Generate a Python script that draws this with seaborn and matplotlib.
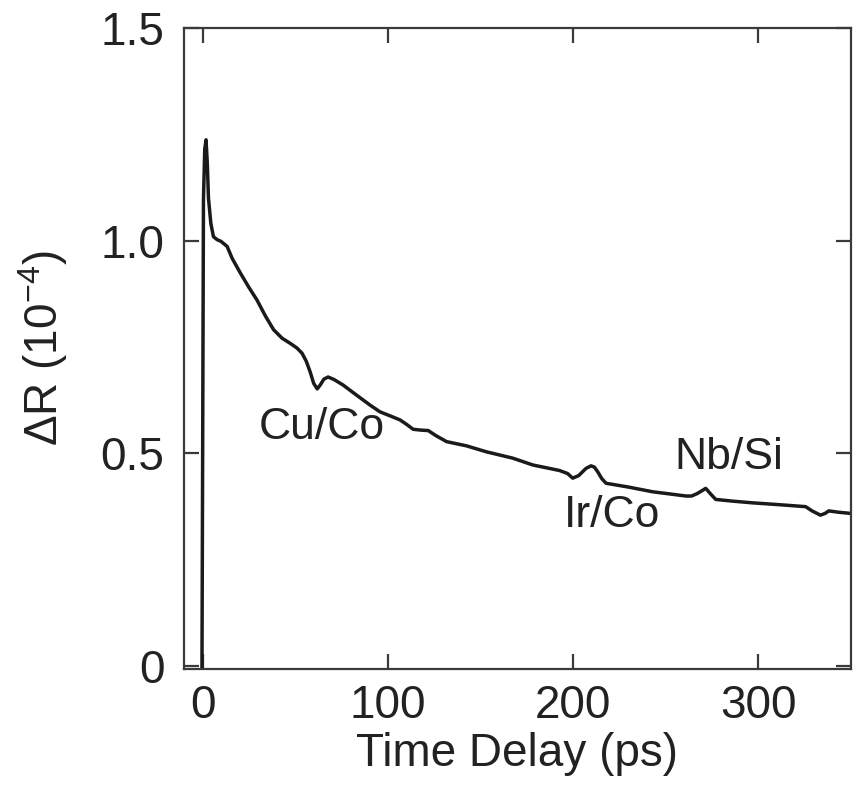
import matplotlib
matplotlib.use("Agg")
import matplotlib.pyplot as plt
import seaborn as sns
import pandas as pd

# Transient reflectivity trace: time delay (ps) and signal (units of 1e-4)
time_ps = [-0.3, 0.5, 1.2, 1.9, 2.6, 3.2, 4.5, 5.9, 7.9, 10.0, 13.3, 16.0,
           20.5, 25.0, 29.4, 34.0, 38.4, 43.0, 47.4, 51.0, 53.7, 56.0, 58.1,
           60.0, 61.9, 63.5, 65.5, 67.8, 71.0, 75.9, 82.0, 90.4, 95.8, 101.0,
           106.6, 110.0, 113.7, 117.9, 121.8, 126.0, 131.7, 142.5, 153.2,
           167.5, 178.3, 192.7, 197.0, 199.8, 203.0, 207.0, 209.7, 211.5,
           213.3, 215.5, 217.8, 230.0, 242.9, 252.0, 260.9, 264.0, 267.1,
           271.6, 274.0, 277.0, 286.0, 296.7, 310.0, 325.5, 329.0, 333.5,
           336.0, 338.0, 343.0, 350.0]
delta_r = [-0.01, 1.096, 1.215, 1.237, 1.18, 1.10, 1.04, 1.009, 1.002, 0.998,
           0.986, 0.958, 0.923, 0.890, 0.860, 0.822, 0.790, 0.770, 0.758,
           0.747, 0.735, 0.716, 0.691, 0.664, 0.651, 0.660, 0.674, 0.679,
           0.673, 0.660, 0.640, 0.613, 0.597, 0.588, 0.578, 0.568, 0.556,
           0.554, 0.553, 0.541, 0.527, 0.517, 0.503, 0.488, 0.472, 0.459,
           0.452, 0.441, 0.447, 0.464, 0.470, 0.467, 0.456, 0.440, 0.429,
           0.420, 0.409, 0.404, 0.399, 0.399, 0.405, 0.417, 0.405, 0.391,
           0.387, 0.383, 0.379, 0.374, 0.364, 0.354, 0.358, 0.364, 0.361,
           0.358]

# Interface echo labels
echo_labels = ["Cu/Co", "Ir/Co", "Nb/Si"]
echo_x = [64.3, 220.9, 284.2]
echo_y = [0.561, 0.352, 0.490]

x_ticks = [0, 100, 200, 300]
y_ticks = [0, 0.5, 1.0, 1.5]
y_tick_labels = ["0", "0.5", "1.0", "1.5"]

sns.set_theme(style="ticks")
plt.rcParams["font.family"] = ["Liberation Sans", "DejaVu Sans"]
plt.rcParams["mathtext.fontset"] = "custom"
plt.rcParams["mathtext.rm"] = "Liberation Sans"
plt.rcParams["mathtext.it"] = "Liberation Sans:italic"
plt.rcParams["mathtext.bf"] = "Liberation Sans:bold"

text_color = "#222222"
edge_color = "#3a3a3a"
fs = 33

fig = plt.figure(figsize=(8.55, 7.91), dpi=100)
ax = fig.add_axes([0.2152, 0.1542, 0.7801, 0.8104])

df = pd.DataFrame({"t": time_ps, "dR": delta_r})
sns.lineplot(data=df, x="t", y="dR", ax=ax, color="#1a1a1a", linewidth=2.5,
             estimator=None, sort=False)
ax.lines[0].set_solid_joinstyle("round")

for lbl, lx, ly in zip(echo_labels, echo_x, echo_y):
    ax.text(lx, ly, lbl, ha="center", va="center", fontsize=32, color=text_color)

ax.set_xlim(-10, 350)
ax.set_ylim(-0.008, 1.5)
ax.set_xticks(x_ticks)
ax.set_xticklabels([str(v) for v in x_ticks])
ax.set_yticks(y_ticks)
ax.set_yticklabels(y_tick_labels)

ax.tick_params(direction="in", length=11, width=1.6, colors=edge_color,
               labelcolor=text_color, labelsize=fs, top=True, right=True)
ax.tick_params(axis="y", pad=14)
ax.tick_params(axis="x", pad=11)

for s in ax.spines.values():
    s.set_visible(True)
    s.set_color(edge_color)
    s.set_linewidth(1.6)

ax.set_xlabel("Time Delay (ps)", fontsize=fs, color=text_color, labelpad=3)
ax.set_ylabel(r"$\Delta$R (10$^{-4}$)", fontsize=fs, color=text_color, labelpad=22)

fig.savefig("out.png", dpi=100)
